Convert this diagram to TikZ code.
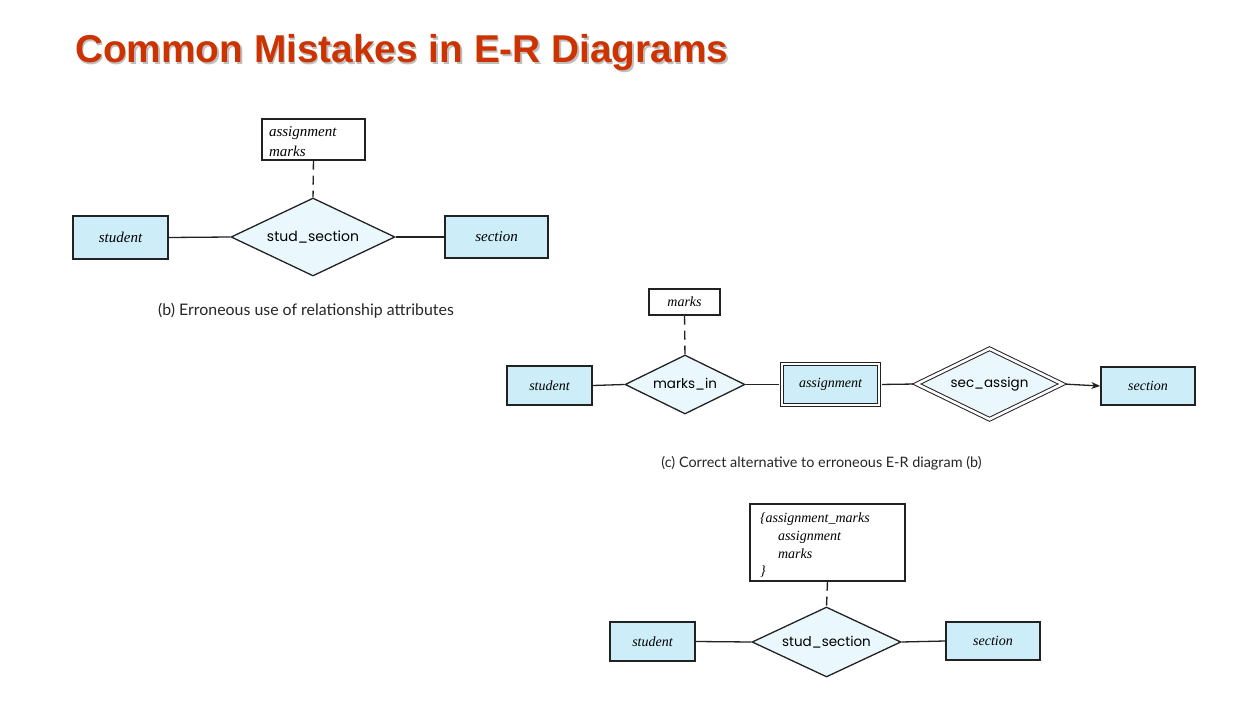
\documentclass[tikz,border=0pt]{standalone}
\usepackage{fontspec}
\setmainfont{Liberation Serif}
\newfontfamily\titlefont{Liberation Sans}
\newfontfamily\relfont{Poppins}
\newfontfamily\capfont{Lato}
\usetikzlibrary{shapes.geometric,arrows.meta}
\definecolor{titlered}{HTML}{CC3300}
\definecolor{entfill}{HTML}{CDEEF9}
\definecolor{relfill}{HTML}{EAF7FC}
\definecolor{linec}{HTML}{222222}
\tikzset{
  entity/.style={draw=linec, fill=entfill, line width=1.5pt, inner sep=0pt,
    font=\itshape\fontsize{14}{16}\selectfont},
  rel/.style={diamond, aspect=2.2, draw=linec, fill=relfill, line width=1.3pt, inner sep=0pt,
    font=\relfont\fontsize{13.5}{16}\selectfont},
  attrbox/.style={draw=linec, fill=white, line width=1.3pt, inner sep=0pt},
  dbl/.style={double=white, double distance=2.6pt, line width=1pt},
  conn/.style={draw=linec, line width=1.3pt},
  attrline/.style={draw=linec, line width=1.4pt, dash pattern=on 9pt off 6pt},
  caption/.style={text=black!85, inner sep=0pt}
}
\begin{document}
\begin{tikzpicture}[x=1pt,y=-1pt]
\useasboundingbox[fill=white] (0,0) rectangle (1254,706);
% title
\node[anchor=base west, inner sep=0pt, font=\titlefont\bfseries\fontsize{38.8}{44}\selectfont,
  text=black, opacity=0.25] (titleshadow) at (76.5,64.5) {Common Mistakes in E-R Diagrams};
\node[anchor=base west, inner sep=0pt, font=\titlefont\bfseries\fontsize{38.8}{44}\selectfont,
  text=titlered] (title) at (75,63) {Common Mistakes in E-R Diagrams};

% (b)
\node[entity, minimum width=95pt, minimum height=43pt, font=\itshape\fontsize{15}{17}\selectfont] (sb) at (120.5,237.5) {student};
\node[rel, minimum width=164pt, minimum height=78pt, font=\relfont\fontsize{14}{16}\selectfont] (rb) at (313,237) {stud\_section};
\node[entity, minimum width=103pt, minimum height=42pt, font=\itshape\fontsize{15}{17}\selectfont] (secb) at (496.5,237) {section};
\node[attrbox, minimum height=41pt, text width=89pt, inner xsep=7pt, align=left,
  font=\itshape\fontsize{15}{20}\selectfont] (ab) at (313.5,139.5) {\rule{0pt}{14pt}assignment\\marks};
\draw[conn] (sb.east) -- (rb.west);
\draw[conn] (rb.east) -- (secb.west);
\draw[attrline] (ab.south) -- (rb.north);
\node[caption, font=\capfont\fontsize{15.9}{18}\selectfont] (capb) at (306,311) {(b) Erroneous use of relationship attributes};

% (c)
\node[entity, minimum width=85pt, minimum height=39pt] (sc) at (549.5,385.5) {student};
\node[rel, minimum width=120pt, minimum height=59pt] (rc) at (685,384.5) {marks\_in};
\node[entity, dbl, minimum width=97pt, minimum height=41pt] (ac) at (830.5,384.5) {assignment};
\node[rel, dbl, minimum width=146pt, minimum height=71pt] (rc2) at (989.5,384) {sec\_assign};
\node[entity, minimum width=94pt, minimum height=38pt] (secc) at (1148,386) {section};
\node[attrbox, minimum width=71pt, minimum height=26pt, font=\itshape\fontsize{14}{16}\selectfont] (mc) at (684.5,302) {marks};
\draw[conn] (sc.east) -- (rc.west);
\draw[conn, shorten >=2.3pt] (rc.east) -- (ac.west);
\draw[conn, shorten <=2.3pt, shorten >=2.3pt] (ac.east) -- (rc2.west);
\draw[conn, shorten <=2.3pt, -{Stealth[length=9pt,width=7pt]}] (rc2.east) -- (secc.west);
\draw[attrline] (mc.south) -- (rc.north);
\node[caption, font=\capfont\fontsize{14.4}{17}\selectfont] (capc) at (821.5,463) {(c) Correct alternative to erroneous E-R diagram (b)};

% (d)
\node[entity, minimum width=85pt, minimum height=39pt] (sd) at (652.5,641.5) {student};
\node[rel, minimum width=149pt, minimum height=70pt] (rd) at (826.5,642) {stud\_section};
\node[entity, minimum width=94pt, minimum height=38pt] (secd) at (993,641) {section};
\node[attrbox, minimum height=77pt, text width=135pt, inner xsep=10pt, align=left,
  font=\itshape\fontsize{14}{17.7}\selectfont] (ad) at (827.5,542.5)
  {\rule{0pt}{15.5pt}\{assignment\_marks\\\hspace*{18pt}assignment\\\hspace*{18pt}marks\\\}};
\draw[conn] (sd.east) -- (rd.west);
\draw[conn] (rd.east) -- (secd.west);
\draw[attrline] (ad.south) -- (rd.north);
\end{tikzpicture}
\end{document}
